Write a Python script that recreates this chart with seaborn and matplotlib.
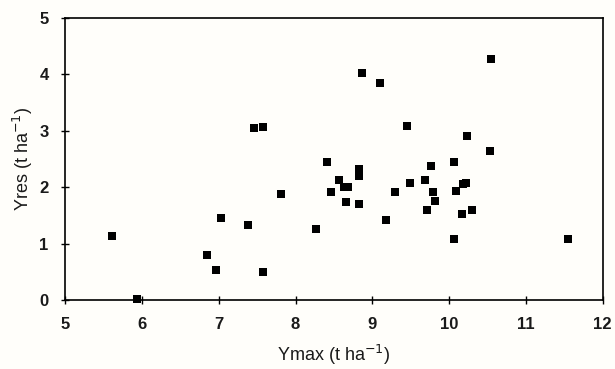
import matplotlib
matplotlib.use("Agg")
import matplotlib.pyplot as plt
import seaborn as sns
import pandas as pd

ymax = [5.61, 5.94, 6.85, 6.97, 7.03, 7.38, 7.46, 7.58, 7.58, 7.81,
        8.27, 8.41, 8.46, 8.56, 8.63, 8.68, 8.66, 8.83, 8.83, 8.83,
        8.87, 9.10, 9.18, 9.29, 9.45, 9.49, 9.68, 9.71, 9.77, 9.79,
        9.82, 10.06, 10.06, 10.09, 10.17, 10.18, 10.22, 10.23, 10.30, 10.53,
        10.55, 11.55]
yres = [1.14, 0.02, 0.80, 0.53, 1.45, 1.33, 3.05, 3.07, 0.49, 1.88,
        1.26, 2.44, 1.91, 2.12, 2.00, 2.00, 1.74, 2.33, 2.20, 1.70,
        4.03, 3.84, 1.41, 1.91, 3.08, 2.08, 2.13, 1.59, 2.38, 1.91,
        1.76, 1.09, 2.44, 1.94, 1.53, 2.06, 2.08, 2.90, 1.60, 2.65,
        4.27, 1.08]
xticks = [5, 6, 7, 8, 9, 10, 11, 12]
yticks = [0, 1, 2, 3, 4, 5]

df = pd.DataFrame({"Ymax": ymax, "Yres": yres})

sns.set_theme(style="ticks")
plt.rcParams['font.family'] = ['Liberation Sans', 'DejaVu Sans']
plt.rcParams['axes.unicode_minus'] = False
bg = '#fffefa'
fig = plt.figure(figsize=(6.15, 3.69), dpi=100, facecolor=bg)
ax = fig.add_axes([0.106, 0.187, 0.874, 0.764])
ax.set_facecolor(bg)

sns.scatterplot(data=df, x="Ymax", y="Yres", marker="s", s=36, color="black",
                edgecolor="black", linewidth=0, ax=ax, zorder=3, clip_on=False)

ax.set_xlim(5, 12)
ax.set_ylim(0, 5)
ax.set_xticks(xticks)
ax.set_yticks(yticks)
ax.set_xticklabels([str(t) for t in xticks], fontweight="bold")
ax.set_yticklabels([str(t) for t in yticks], fontweight="bold")
for s in ax.spines.values():
    s.set_visible(True)
    s.set_color("black")
    s.set_linewidth(1.2)
ax.tick_params(axis="both", direction="inout", length=6, width=1, color="black",
               labelsize=12, labelcolor="#1a1a1a")
ax.tick_params(axis="x", pad=9)
ax.tick_params(axis="y", pad=9)
ax.set_xlabel("Ymax (t ha$^{-1}$)", fontsize=13, color="#1a1a1a", labelpad=8)
ax.set_ylabel("Yres (t ha$^{-1}$)", fontsize=13, color="#1a1a1a", labelpad=3)

fig.savefig("out.png", dpi=100, facecolor=bg)
